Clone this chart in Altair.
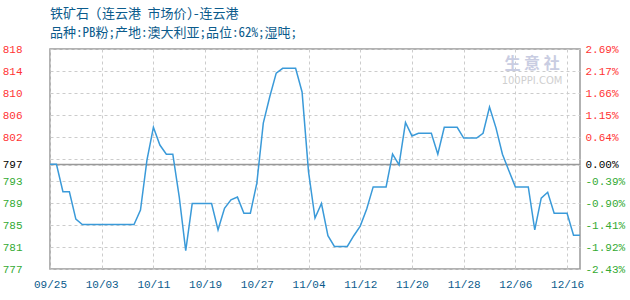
import json
import altair as alt
import pandas as pd

# ---- data ----
dates = [d.strftime("%m/%d") for d in pd.date_range("2024-09-25", "2024-12-18")
         if d.strftime("%m/%d") not in ("12/07", "12/08")]

prices = [
    796.5, 796.5, 791.4, 791.4, 786.3, 785.3, 785.3, 785.3, 785.3, 785.3,
    785.3, 785.3, 785.3, 785.3, 788.0, 797.3, 803.4, 800.1, 798.4, 798.4,
    790.4, 780.4, 789.2, 789.2, 789.2, 789.2, 784.3, 788.3, 789.9, 790.4,
    787.4, 787.4, 793.0, 804.2, 809.1, 813.5, 814.4, 814.4, 814.4, 810.0,
    795.1, 786.5, 789.2, 783.2, 781.2, 781.2, 781.2, 783.2, 785.0, 788.2,
    792.3, 792.3, 792.3, 798.4, 796.4, 804.3, 801.8, 802.3, 802.3, 802.3,
    798.4, 803.4, 803.4, 803.4, 801.4, 801.4, 801.4, 802.3, 807.2, 803.3,
    798.4, 795.3, 792.3, 792.3, 792.3, 784.3, 790.2, 791.3, 787.4, 787.4,
    787.4, 783.3, 783.3,
]

x_label_dates = ["09/25", "10/03", "10/11", "10/19", "10/27", "11/04",
                 "11/12", "11/20", "11/28", "12/06", "12/16"]

base_value = 796.46
y_tick_values = [777, 781.1, 785.2, 789.3, 793.4, 797.5, 801.6, 805.7, 809.8, 813.9, 818, base_value]
left_tick_labels = ["777", "781", "785", "789", "793", "", "802", "806", "810", "814", "818", "797"]
right_tick_labels = ["-2.43%", "-1.92%", "-1.41%", "-0.90%", "-0.39%", "", "0.64%", "1.15%",
                     "1.66%", "2.17%", "2.69%", "0.00%"]

title_text = "铁矿石 (连云港 市场价)-连云港"
subtitle_text = "品种:PB粉;产地:澳大利亚;品位:62%;湿吨;"
watermark_cn = "生 意 社"
watermark_en = "100PPI.COM"

df = pd.DataFrame({"date": dates, "price": prices})

# ---- styling ----
y_domain = [777, 818]
RED = "#ff3333"
GREEN = "#33aa33"
BLUE_TXT = "#0b5b8c"
LINE = "#3a9ad9"
MONO = "Liberation Mono"
CJK = "Noto Sans Mono CJK SC, Noto Sans CJK SC"


def label_expr(labels):
    return f"{json.dumps(labels)}[indexof({json.dumps(y_tick_values)}, datum.value)]"


label_color = {
    "condition": [
        {"test": f"datum.value > {base_value + 0.01}", "value": RED},
        {"test": f"datum.value < {base_value - 0.01}", "value": GREEN},
    ],
    "value": "#000000",
}

x_enc = alt.X(
    "date:O",
    sort=dates,
    scale=alt.Scale(type="point", padding=0),
    axis=alt.Axis(values=x_label_dates, labelAngle=0, title=None, grid=True,
                  labelColor=BLUE_TXT, labelFont=MONO, labelFontSize=11,
                  labelPadding=9, ticks=False, domain=False),
)

y_scale = alt.Scale(domain=y_domain, nice=False, zero=False)

base_df = pd.DataFrame({"base": [base_value]})
rule = alt.Chart(base_df).mark_rule(color="#999999", strokeWidth=1.5).encode(
    y=alt.Y("base:Q", scale=y_scale, axis=None)
)

line = alt.Chart(df).mark_line(color=LINE, strokeWidth=1.5).encode(
    x=x_enc,
    y=alt.Y("price:Q", scale=y_scale,
            axis=alt.Axis(values=y_tick_values, labelExpr=label_expr(left_tick_labels),
                          labelColor=label_color, title=None, grid=True, ticks=False,
                          domain=False, labelFont=MONO, labelFontSize=11,
                          labelPadding=28, orient="left")),
)

right = alt.Chart(df).mark_line(opacity=0).encode(
    x=x_enc,
    y=alt.Y("price:Q", scale=y_scale,
            axis=alt.Axis(values=y_tick_values, labelExpr=label_expr(right_tick_labels),
                          labelColor=label_color, title=None, grid=False, ticks=False,
                          domain=False, labelFont=MONO, labelFontSize=11,
                          labelPadding=5, orient="right")),
)

wm1 = alt.Chart(base_df).mark_text(text=watermark_cn, font="Noto Sans CJK SC", fontSize=16,
                                   fontWeight="bold", color="#c9cde2").encode(
    x=alt.value(482), y=alt.value(15))
wm2 = alt.Chart(base_df).mark_text(text=watermark_en, font="DejaVu Sans", fontSize=10,
                                   color="#cfcfcf").encode(
    x=alt.value(482), y=alt.value(32))

chart = alt.layer(rule, line, right, wm1, wm2).resolve_scale(y="independent").properties(
    width=530,
    height=220,
    autosize="none",
    padding={"left": 50, "top": 49, "right": 50, "bottom": 31},
    title=alt.TitleParams(
        text=title_text, subtitle=subtitle_text, anchor="start", frame="group",
        font=CJK, fontSize=13, fontWeight="normal", color=BLUE_TXT,
        subtitleFont=CJK, subtitleFontSize=13, subtitleColor=BLUE_TXT,
        offset=3, subtitlePadding=6,
    ),
).configure_view(stroke="#999999", strokeWidth=1.5).configure_axis(
    gridColor="#cccccc", gridDash=[3, 3], gridWidth=1
)

chart.save("out.html", embed_options={"renderer": "svg", "actions": False})
